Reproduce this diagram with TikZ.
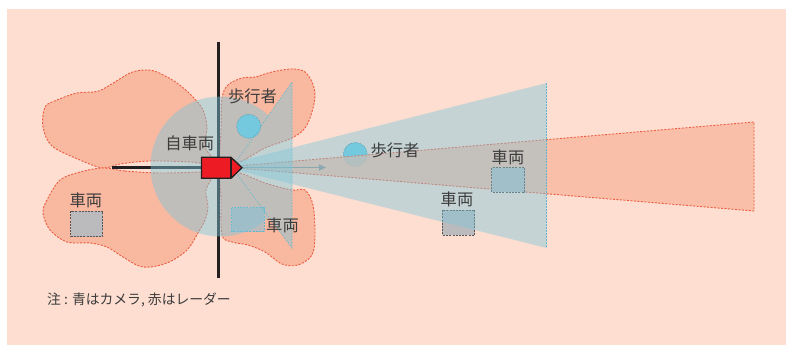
\documentclass[tikz,border=0pt]{standalone}
\usepackage{fontspec}
\setmainfont{Noto Sans CJK JP}
\usetikzlibrary{arrows.meta}
\definecolor{bgsalmon}{HTML}{FDDED0}
\definecolor{lobefill}{HTML}{F9B8A0}
\definecolor{lobeline}{HTML}{EE5A40}
\definecolor{camblue}{HTML}{7CC6DA}
\definecolor{camline}{HTML}{5FB8D0}
\definecolor{vehgray}{HTML}{BBBBBD}
\definecolor{vehline}{HTML}{555555}
\definecolor{pedcyan}{HTML}{6ECCE2}
\definecolor{carred}{HTML}{ED1C24}
\definecolor{txt}{HTML}{3C3C3C}
\definecolor{blk}{HTML}{231F20}
\tikzset{
  lobe/.style={fill=lobefill, draw=lobeline, dash pattern=on 2pt off 1.5pt, line width=0.9pt},
  veh/.style={fill=vehgray, draw=vehline, dash pattern=on 2pt off 1.2pt, line width=0.8pt},
  ped/.style={fill=pedcyan, draw=camline!70!black, dash pattern=on 1.5pt off 1pt, line width=0.5pt},
  lbl/.style={text=txt, font=\fontsize{16.3}{16.3}\selectfont, inner sep=0pt},
  note/.style={text=txt, font=\fontsize{13.8}{13.8}\selectfont, inner sep=0pt, anchor=west},
  road/.style={draw=blk, line width=3pt},
  camedge/.style={draw=camline, dash pattern=on 1.5pt off 1.5pt, line width=0.6pt}
}
\begin{document}
\begin{tikzpicture}[x=1pt,y=-1pt]
\useasboundingbox (0,0) rectangle (786,345);
\fill[white] (0,0) rectangle (786,345);
\fill[bgsalmon] (7,9) rectangle (786,345);

% radar lobes
\draw[lobe] plot[smooth cycle, tension=0.55] coordinates {(216,164) (190,162) (150,161) (120,164) (103,168) (80,160) (52,146) (43,127) (45,107) (57,100) (77,93) (97,91.5) (110,85) (130,73) (144,70) (157,72) (177,83) (193,97) (203,110) (207,127) (205,147)};
\draw[lobe] plot[smooth cycle, tension=0.55] coordinates {(103,168) (125,171) (160,173) (200,172) (214,172) (206,190) (208,207) (205,220) (198,233) (187,250) (167,263) (143,267) (123,257) (107,247) (90,243) (67,242) (50,230) (43,213) (47,200) (60,180) (80,172)};
\draw[lobe] plot[smooth cycle, tension=0.55] coordinates {(221,164) (221,130) (222,98) (228,85) (242,78) (255,77) (268,73) (282,70) (295,69) (305,72) (312,82) (315,95) (312,112) (305,128) (292,138) (265,148) (240,162)};
\draw[lobe] plot[smooth cycle, tension=0.55] coordinates {(221,171) (240,173) (265,183) (292,190) (305,190) (313,205) (315,235) (312,255) (298,265) (282,264) (265,252) (248,245) (232,242) (222,235) (221,200)};

% roads
\coordinate (hl) at (112,167);
\coordinate (vt) at (218,42);
\coordinate (vb) at (218,278);
\draw[road] (hl) -- (201,167);
\draw[road] (vt) -- (vb);

% pedestrians
\node[ped, circle, minimum size=24pt, inner sep=0pt] (p1) at (248.7,126.3) {};
\node[ped, circle, minimum size=24pt, inner sep=0pt] (p2) at (355.3,154.5) {};

% long radar beam
\coordinate (ra) at (225,167);
\coordinate (rt) at (754,122);
\coordinate (rb) at (754,211);
\draw[lobe, fill opacity=0.8] (ra) -- (rt) -- (rb) -- cycle;

% vehicles
\draw[veh] (70.7,211) rectangle (102.7,236.7);
\draw[veh, draw=camline] (231.7,207.7) rectangle (264,231.7);
\draw[veh] (442.3,210) rectangle (474.7,235);
\draw[veh] (491.7,167.7) rectangle (524.7,192.3);

% arrow
\coordinate (as) at (242,167.5);
\coordinate (ae) at (326,167.5);
\draw[draw=gray!85, line width=1.6pt, -{Triangle[length=7pt,width=6pt]}] (as) -- (ae);

% camera: circle + wide wedge
\coordinate (cc) at (220.5,166.5);
\coordinate (wa) at (232,167.5);
\coordinate (wt) at (292,82);
\coordinate (wb) at (292,248);
\fill[camblue, opacity=0.45] (cc) circle (70) (wa) -- (wt) -- (wb) -- cycle;
\draw[camedge] (wa) -- (wt) -- (wb) -- cycle;
% camera long wedge
\coordinate (la) at (220,166);
\coordinate (lt) at (546.7,83);
\coordinate (lb) at (546.7,248);
\fill[camblue, opacity=0.42] (la) -- (lt) -- (lb) -- cycle;
\draw[camedge] (lt) -- (lb);

% own car
\fill[carred] (201.5,157.3) rectangle (231,178.3);
\fill[carred] (231,157.3) -- (242,167.7) -- (231,178.3) -- cycle;
\draw[blk, line width=1.3pt, line join=miter] (201.5,157.3) -- (231,157.3) -- (242,167.7) -- (231,178.3) -- (201.5,178.3) -- cycle;
\draw[blk, line width=1.3pt] (231,157.3) -- (231,178.3);

% labels
\node[lbl] (t1) at (252.5,96.7) {歩行者};
\node[lbl] (t2) at (189.7,143.5) {自車両};
\node[lbl] (t3) at (85.8,200.8) {車両};
\node[lbl] (t4) at (282.5,225) {車両};
\node[lbl] (t5) at (395,150.8) {歩行者};
\node[lbl] (t6) at (457,199.7) {車両};
\node[lbl] (t7) at (508,157.5) {車両};
\node[note] (n1) at (47,300) {注 : 青はカメラ, 赤はレーダー};
\end{tikzpicture}
\end{document}
